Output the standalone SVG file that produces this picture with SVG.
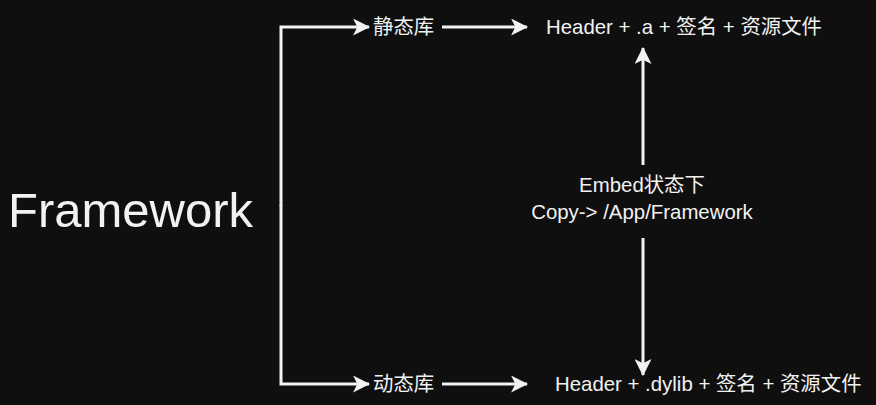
<svg xmlns="http://www.w3.org/2000/svg" width="876" height="405" viewBox="0 0 876 405">
<defs>
<marker id="ah" viewBox="0 0 16 16" refX="15" refY="8" markerWidth="17" markerHeight="17" markerUnits="userSpaceOnUse" orient="auto">
<path d="M0,0 L16,8 L0,16 L4,8 Z" fill="#f2f2f2"/>
</marker>
<style>
.t{fill:#f2f2f2;font-family:"Liberation Sans","Noto Sans CJK SC",sans-serif;font-size:20.4px;dominant-baseline:central}
.c{fill:none;stroke:#f2f2f2;stroke-width:3}
</style>
</defs>
<rect width="876" height="405" fill="#0f0f0f"/>
<g id="connectors">
<polyline class="c" points="281,206 281,27 369,27" marker-end="url(#ah)"/>
<polyline class="c" points="281,205 281,384 369,384" marker-end="url(#ah)"/>
<line class="c" x1="442" y1="27" x2="527" y2="27" marker-end="url(#ah)"/>
<line class="c" x1="442" y1="384" x2="527" y2="384" marker-end="url(#ah)"/>
<line class="c" x1="643" y1="165" x2="643" y2="48" marker-end="url(#ah)"/>
<line class="c" x1="643" y1="238" x2="643" y2="375" marker-end="url(#ah)"/>
</g>
<g id="framework"><text class="t" x="8" y="210" style="font-size:49px">Framework</text></g>
<g id="static"><text class="t" x="373" y="27">静态库</text></g>
<g id="dynamic"><text class="t" x="373" y="384">动态库</text></g>
<g id="static-content"><text class="t" x="546" y="27">Header + .a + 签名 + 资源文件</text></g>
<g id="dynamic-content"><text class="t" x="555" y="384">Header + .dylib + 签名 + 资源文件</text></g>
<g id="embed"><text class="t" x="642" y="185" text-anchor="middle">Embed状态下</text><text class="t" x="642" y="212" text-anchor="middle">Copy-&gt; /App/Framework</text></g>
</svg>
